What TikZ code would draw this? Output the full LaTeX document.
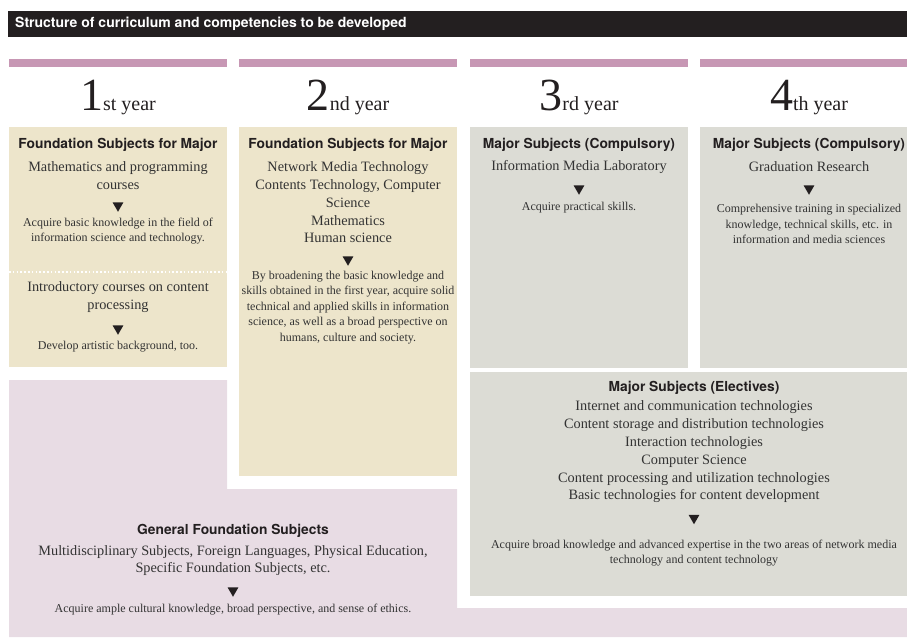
\documentclass[tikz,border=0pt]{standalone}
\usepackage{fontspec}
\setmainfont{Liberation Serif}
\newfontfamily\headfont{TeX Gyre Heros}
\usepackage{tikz}
\usetikzlibrary{
  shapes.geometric
}
\definecolor{inkdark}{HTML}{231F20}
\definecolor{textgrey}{HTML}{333333}
\definecolor{barpink}{HTML}{C797B4}
\definecolor{sand}{HTML}{EDE5CB}
\definecolor{stone}{HTML}{DCDCD5}
\definecolor{lilac}{HTML}{E8DCE4}
\tikzset{
  headline/.style={
    font=\headfont\bfseries\fontsize{13.8}{16}\selectfont,
    text=inkdark, inner sep=0pt
  },
  titletext/.style={
    font=\headfont\bfseries\fontsize{14}{16}\selectfont,
    text=white, inner sep=0pt, anchor=west
  },
  courses/.style={
    font=\fontsize{14.3}{17.8}\selectfont,
    text=textgrey, align=center, inner sep=0pt
  },
  outcome/.style={
    font=\fontsize{12}{15.4}\selectfont,
    text=textgrey, align=center, inner sep=0pt
  },
  downmark/.style={
    regular polygon, regular polygon sides=3, shape border rotate=180,
    fill=inkdark, inner sep=0pt, minimum size=12.5pt
  },
  yearlabel/.style={
    text=inkdark, inner sep=0pt, anchor=base
  },
}

\begin{document}
\begin{tikzpicture}[x=1pt,y=-1pt]
  \useasboundingbox (0,0) rectangle (907,637);

  %% Title bar
  \fill[inkdark] (8,11) rectangle (907,37);
  \node[titletext] (title) at (15,24) {Structure of curriculum and competencies to be developed};

  %% Year bars and labels
  \foreach \x/\w/\c/\num/\suf [count=\i] in {9/218/118/1/st, 239/218/348/2/nd, 470/218/579/3/rd, 700/207/809/4/th} {
    \fill[barpink] (\x,59) rectangle ++(\w,8);
    \node[yearlabel] (year\i) at (\c,110)
      {{\fontsize{46}{46}\selectfont\num}{\fontsize{20}{20}\selectfont\suf\ year}};
  }

  %% Panels
  \fill[sand] (9,127) rectangle (227,367);
  \fill[sand] (239,127) rectangle (457,476);
  \fill[stone] (470,127) rectangle (688,368);
  \fill[stone] (700,127) rectangle (907,368);
  \fill[stone] (470,372) rectangle (907,596);
  \fill[lilac] (9,380) -| (227,489) -| (457,608) -| (907,637) -| cycle;
  \draw[white, line width=1.6pt, dash pattern=on 1.6pt off 2.2pt] (9,272) -- (227,272);

  %% 1st year
  \node[headline] (found1) at (118,145) {Foundation Subjects for Major};
  \node[courses] (maths) at (118,176) {Mathematics and programming\\courses};
  \node[downmark] (tri1) at (118,205.5) {};
  \node[outcome] (basic) at (118,231) {Acquire basic knowledge in the field of\\information science and technology.};
  \node[courses] (intro) at (118,297) {Introductory courses on content\\processing};
  \node[downmark] (tri2) at (118,328.5) {};
  \node[outcome] (artistic) at (118,347) {Develop artistic background, too.};

  %% 2nd year
  \node[headline] (found2) at (348,145) {Foundation Subjects for Major};
  \node[courses] (media) at (348,202.5) {Network Media Technology\\Contents Technology, Computer\\Science\\Mathematics\\Human science};
  \node[downmark] (tri3) at (348,259.5) {};
  \node[outcome] (broaden) at (348,307.5) {By broadening the basic knowledge and\\skills obtained in the first year, acquire solid\\technical and applied skills in information\\science, as well as a broad perspective on\\humans, culture and society.};

  %% 3rd year
  \node[headline] (major3) at (579,145) {Major Subjects (Compulsory)};
  \node[courses] (lab) at (579,167) {Information Media Laboratory};
  \node[downmark] (tri4) at (579,188.5) {};
  \node[outcome] (practical) at (579,208) {Acquire practical skills.};

  %% 4th year
  \node[headline] (major4) at (809,145) {Major Subjects (Compulsory)};
  \node[courses] (grad) at (809,167) {Graduation Research};
  \node[downmark] (tri5) at (809,188.5) {};
  \node[outcome] (training) at (809,224) {Comprehensive training in specialized\\knowledge, technical skills, etc. in\\information and media sciences};

  %% Electives
  \node[headline] (elect) at (694,388) {Major Subjects (Electives)};
  \node[courses] (techs) at (694,452) {Internet and communication technologies\\Content storage and distribution technologies\\Interaction technologies\\Computer Science\\Content processing and utilization technologies\\Basic technologies for content development};
  \node[downmark] (tri6) at (694,518) {};
  \node[outcome] (expertise) at (694,553) {Acquire broad knowledge and advanced expertise in the two areas of network media\\technology and content technology};

  %% General foundation
  \node[headline] (general) at (233,531) {General Foundation Subjects};
  \node[courses] (multi) at (233,560.5) {Multidisciplinary Subjects, Foreign Languages, Physical Education,\\Specific Foundation Subjects, etc.};
  \node[downmark] (tri7) at (233,590.5) {};
  \node[outcome] (ethics) at (233,610) {Acquire ample cultural knowledge, broad perspective, and sense of ethics.};
\end{tikzpicture}
\end{document}
